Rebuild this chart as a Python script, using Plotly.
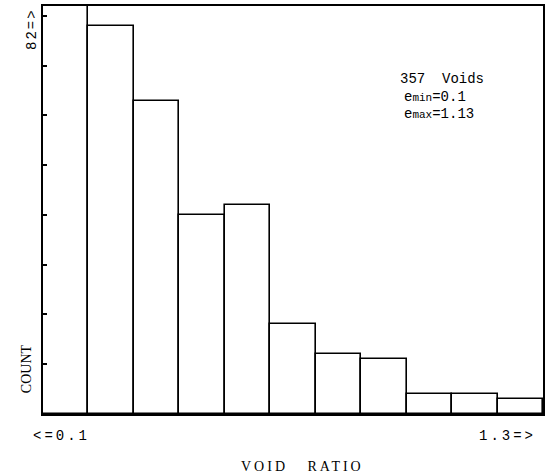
import plotly.graph_objects as go

bins = list(range(11))
counts = [82, 78, 63, 40, 42, 18, 12, 11, 4, 4, 3]
y_ticks = [10, 20, 30, 40, 50, 60, 70, 80]
x_left_label = "<=0.1"
x_right_label = "1.3=>"
y_top_label = "82=>"

MONO = "Liberation Mono, DejaVu Sans Mono, monospace"
SERIF = "Liberation Serif, DejaVu Serif, serif"

def spaced(t, px):
    return "<span style='letter-spacing:%dpx'>%s</span>" % (px, t)

fig = go.Figure()
fig.add_trace(go.Bar(
    x=bins, y=counts, width=1.0,
    marker=dict(color="white", line=dict(color="black", width=1.6)),
    showlegend=False, hoverinfo="skip",
))

fig.update_layout(
    width=549, height=475,
    margin=dict(l=43, r=4, t=6, b=61),
    paper_bgcolor="white", plot_bgcolor="white",
    bargap=0,
    xaxis=dict(range=[-0.5, 10.5], showgrid=False, zeroline=False,
               showline=True, linecolor="black", linewidth=2, mirror=True,
               showticklabels=False, ticks=""),
    yaxis=dict(range=[0, 82], showgrid=False, zeroline=False,
               showline=True, linecolor="black", linewidth=2, mirror=True,
               showticklabels=False, ticks="inside", tickvals=y_ticks,
               ticklen=4, tickwidth=1.5, tickcolor="black"),
    font=dict(family=MONO, color="black"),
)

ann = []
ann.append(dict(xref="paper", yref="paper", x=-0.022, y=1.0, xanchor="center", yanchor="top",
                text=spaced(y_top_label, 2), textangle=-90, showarrow=False,
                font=dict(family=MONO, size=14)))
ann.append(dict(xref="paper", yref="paper", x=-0.034, y=0.045, xanchor="center", yanchor="bottom",
                text="COUNT", textangle=-90, showarrow=False,
                font=dict(family=SERIF, size=14)))
ann.append(dict(xref="paper", yref="paper", x=-0.024, y=-0.03, xanchor="left", yanchor="top",
                text=spaced(x_left_label, 3), showarrow=False, font=dict(family=MONO, size=14)))
ann.append(dict(xref="paper", yref="paper", x=0.99, y=-0.03, xanchor="right", yanchor="top",
                text=spaced(x_right_label, 3), showarrow=False, font=dict(family=MONO, size=14)))
ann.append(dict(xref="paper", yref="paper", x=0.518, y=-0.105, xanchor="center", yanchor="top",
                text=spaced("VOID&nbsp;&nbsp;&nbsp;RATIO", 3), showarrow=False,
                font=dict(family=SERIF, size=14)))
ann.append(dict(xref="paper", yref="paper", x=0.71, y=0.82, xanchor="left", yanchor="middle",
                text="357&nbsp;&nbsp;Voids", showarrow=False, font=dict(family=MONO, size=14)))
ann.append(dict(xref="paper", yref="paper", x=0.718, y=0.777, xanchor="left", yanchor="middle",
                text="e<span style='font-size:11px'>min</span>=0.1", showarrow=False,
                font=dict(family=MONO, size=14)))
ann.append(dict(xref="paper", yref="paper", x=0.718, y=0.735, xanchor="left", yanchor="middle",
                text="e<span style='font-size:11px'>max</span>=1.13", showarrow=False,
                font=dict(family=MONO, size=14)))
fig.update_layout(annotations=ann)

fig.write_html("out.html")
